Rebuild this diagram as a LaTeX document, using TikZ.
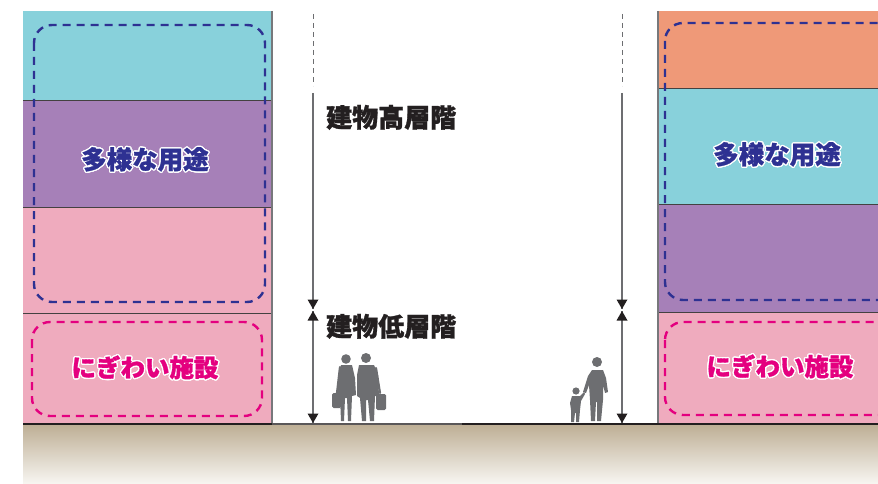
\documentclass[tikz,border=0pt]{standalone}
\usepackage{fontspec}
\newfontfamily\jp{Noto Sans CJK JP Black}[FakeBold=1.2]
\usepackage{contour}
\contourlength{1.3pt}

\definecolor{cyanband}{HTML}{88D1DB}
\definecolor{purpleband}{HTML}{A680B8}
\definecolor{pinkband}{HTML}{EFABBE}
\definecolor{orangeband}{HTML}{EF9978}
\definecolor{useblue}{HTML}{2E3192}
\definecolor{lively}{HTML}{E4007F}
\definecolor{ink}{HTML}{231F20}
\definecolor{figgray}{HTML}{6D6E71}
\definecolor{edgegray}{HTML}{77787B}
\definecolor{groundtop}{HTML}{BDAE94}
\definecolor{groundbot}{HTML}{F8F6F2}

\tikzset{
  floorline/.style={draw=ink!85, line width=1pt},
  wallline/.style={draw=edgegray, line width=1.6pt},
  usebox/.style={draw=useblue, line width=2.4pt, dash pattern=on 8pt off 6pt, rounded corners=18pt},
  livelybox/.style={draw=lively, line width=2.4pt, dash pattern=on 8pt off 6pt, rounded corners=18pt},
  uselabel/.style={text=useblue, font=\jp\fontsize{25.5}{27}\selectfont, inner sep=0pt},
  livelylabel/.style={text=lively, font=\jp\fontsize{24.5}{26}\selectfont, inner sep=0pt},
  floorlabel/.style={text=ink, font=\jp\fontsize{26}{28}\selectfont, inner sep=0pt, anchor=west},
  dimline/.style={draw=figgray, line width=1.2pt},
  dimdashed/.style={draw=figgray, line width=1pt, dash pattern=on 5pt off 4pt},
  dimhead/.style={fill=ink},
  figure/.style={fill=figgray}
}

\begin{document}
\begin{tikzpicture}[x=1pt,y=-1pt]
\useasboundingbox (0,0) rectangle (878,484);
\clip (0,0) rectangle (878,484);

% ground
\shade[top color=groundtop, bottom color=groundbot] (23,424) rectangle (878,484);

% left building
\fill[cyanband] (23,11) rectangle (272,101);
\fill[purpleband] (23,101) rectangle (272,207);
\fill[pinkband] (23,207) rectangle (272,424);
\draw[floorline] (23,101) -- (272,101);
\draw[floorline] (23,207) -- (272,207);
\draw[floorline] (23,313) -- (272,313);
\draw[wallline] (272,11) -- (272,424);

% right building
\fill[orangeband] (658,11) rectangle (878,89);
\fill[cyanband] (658,89) rectangle (878,204);
\fill[purpleband] (658,204) rectangle (878,312);
\fill[pinkband] (658,312) rectangle (878,424);
\draw[floorline] (658,89) -- (878,89);
\draw[floorline] (658,204) -- (878,204);
\draw[floorline] (658,312) -- (878,312);
\draw[wallline] (658,11) -- (658,424);

% dashed zones
\draw[usebox] (34,25) rectangle (265,302);
\draw[livelybox] (32,322) rectangle (262,416);
\draw[usebox] (665,23) rectangle (900,300);
\draw[livelybox] (665,322) rectangle (900,415);

% zone labels
\node[uselabel] (useL) at (145,160) {\contour{white}{多様な用途}};
\node[livelylabel] (livelyL) at (145,368) {\contour{white}{にぎわい施設}};
\node[uselabel] (useR) at (777,155) {\contour{white}{多様な用途}};
\node[livelylabel] (livelyR) at (780,367) {\contour{white}{にぎわい施設}};

% floor range labels
\node[floorlabel] (high) at (326,118) {\contour{white}{建物高層階}};
\node[floorlabel] (low) at (326,327) {\contour{white}{建物低層階}};

% dimension lines with filled triangular heads
\foreach \side/\x in {L/313, R/622} {
  \coordinate (top\side) at (\x,14);
  \coordinate (dashend\side) at (\x,86);
  \coordinate (start\side) at (\x,93);
  \coordinate (upper\side) at (\x,309);
  \coordinate (lower\side) at (\x,311);
  \coordinate (ground\side) at (\x,423);
  \draw[dimdashed] (top\side) -- (dashend\side);
  \draw[dimline] (start\side) -- (upper\side);
  \draw[dimline] (lower\side) -- (ground\side);
  \fill[dimhead] (upper\side) -- ++(-5.5,-9.5) -- ++(11,0) -- cycle;
  \fill[dimhead] (lower\side) -- ++(-5.5,9.5) -- ++(11,0) -- cycle;
  \fill[dimhead] (ground\side) -- ++(-5.5,-9.5) -- ++(11,0) -- cycle;
}

% ground line
\draw[ink, line width=2.6pt] (23,424) -- (272,424);
\draw[ink!75, line width=1.6pt] (272,424) -- (462,424);
\draw[ink, line width=2.6pt] (462,424) -- (878,424);

% walking couple
\fill[figure] (346,359) circle (4.8pt);
\fill[figure] (341,365) -- (352,365) -- (355,378) -- (356,395) -- (352,396)
  -- (351,421) -- (348,421) -- (347,398) -- (345,398) -- (344,421)
  -- (341,421) -- (340,397) -- (337,396) -- (339,378) -- cycle;
\draw[figgray, line width=2.2pt, line cap=round] (340,367) -- (337,393);
\fill[figure, rounded corners=1.5pt] (332,393) rectangle (341,408);
\fill[figure] (366,358) circle (5pt);
\fill[figure] (359,365) -- (374,365) -- (378,375) -- (379,396) -- (375,396)
  -- (374,421) -- (370,421) -- (368,400) -- (366,400) -- (366,421)
  -- (362,421) -- (360,398) -- (357,396) -- (357,375) -- cycle;
\draw[figgray, line width=2.2pt, line cap=round] (376,368) -- (380,393);
\fill[figure, rounded corners=1.5pt] (376,394) rectangle (386,410);

% parent and child
\fill[figure] (597,362) circle (5pt);
\fill[figure] (592,370) -- (603,370) -- (606,378) -- (608,392) -- (605,393)
  -- (603,385) -- (603,400) -- (601,421) -- (597,421) -- (597,402)
  -- (596,402) -- (595,421) -- (591,421) -- (590,400) -- (589,385)
  -- (586,393) -- (583,392) -- (588,376) -- cycle;
\fill[figure] (576,391) circle (3.6pt);
\fill[figure] (572,396) -- (580,396) -- (584,392) -- (585,394) -- (581,401)
  -- (580,410) -- (579,422) -- (576,422) -- (576,413) -- (575,413)
  -- (574,422) -- (571,422) -- (571,410) -- (570,403) -- cycle;
\end{tikzpicture}
\end{document}
